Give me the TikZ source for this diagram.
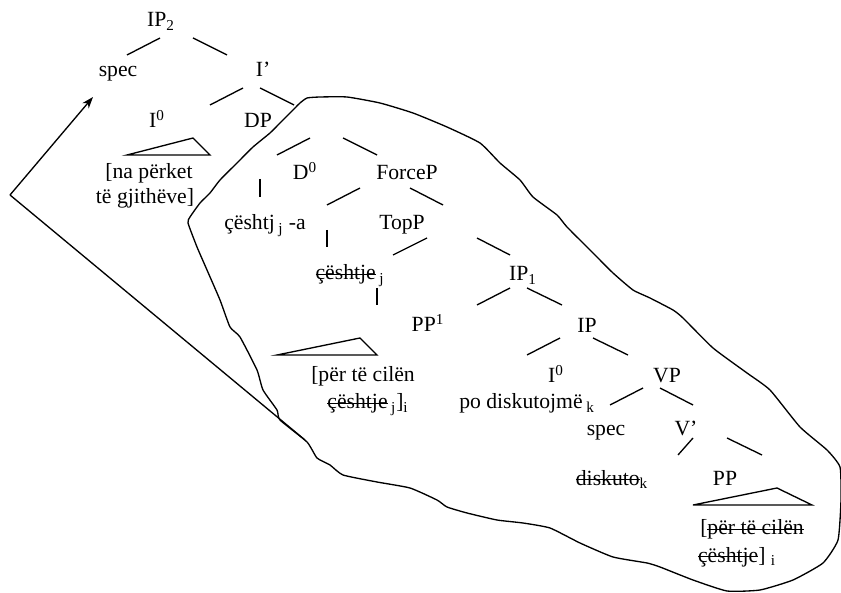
\documentclass[tikz,border=0pt]{standalone}
\usepackage{fontspec}
\setmainfont{Liberation Serif}
\usepackage{tikz}
\usetikzlibrary{arrows.meta}

% struck-through text
\newcommand{\strk}[1]{\leavevmode\setbox0\hbox{#1}\rlap{\rule[0.24em]{\wd0}{0.7pt}}\box0}

\tikzset{
  lbl/.style={anchor=base, inner sep=0pt, font=\fontsize{13}{15}\selectfont},
  branch/.style={line width=0.8pt},
  blob/.style={line width=0.8pt, line join=round}
}

\begin{document}
\begin{tikzpicture}[x=0.6pt, y=-0.6pt]
\useasboundingbox (0,0) rectangle (841,593);

% Upper tree (IP2)
\node[lbl] (ip2)   at (161,27)  {IP\textsubscript{2}};
\node[lbl] (spec)  at (118,77)  {spec};
\node[lbl] (ibar)  at (263,77)  {I’};
\node[lbl] (i0)    at (157,128) {I\textsuperscript{0}};
\node[lbl] (dp)    at (258,128) {DP};
\node[lbl] (na1)   at (149,179) {[na përket};
\node[lbl] (na2)   at (145,204) {të gjithëve]};

\draw[branch] (ip2.base) ++(-1,11) -- ++(-33,17);
\draw[branch] (ip2.base) ++(32,11) -- ++(34,17);
\draw[branch] (ibar.base) ++(-20,11) -- ++(-33,17);
\draw[branch] (ibar.base) ++(-3,11) -- ++(34,17);
\draw[branch] (i0.base) ++(-30,27) -- ++(66,-17) -- ++(17,17) -- cycle;

% DP inside the blob
\node[lbl] (d0)      at (305,180) {D\textsuperscript{0}};
\node[lbl] (forcep)  at (407,180) {ForceP};
\node[lbl] (cesht)   at (265,230) {çështj\,\textsubscript{j} -a};
\node[lbl] (topp)    at (402,230) {TopP};
\node[lbl] (ceshtje) at (350,280) {\strk{çështje}\,\textsubscript{j}};
\node[lbl] (ip1)     at (523,281) {IP\textsubscript{1}};
\node[lbl] (pp1)     at (428,332) {PP\textsuperscript{1}};
\node[lbl] (ip)      at (587,333) {IP};
\node[lbl] (per1)    at (363,382) {[për të cilën};
\node[lbl] (per2)    at (368,409) {\strk{çështje}\,\textsubscript{j}]\textsubscript{i}};

\draw[branch] (dp.base) ++(52,10) -- ++(-33,17);
\draw[branch] (dp.base) ++(85,10) -- ++(34,17);
\draw[branch] (d0.base) ++(-45,-1) -- ++(0,18);
\draw[branch] (forcep.base) ++(-47,8) -- ++(-33,17);
\draw[branch] (forcep.base) ++(3,8) -- ++(33,17);
\draw[branch] (topp.base) ++(-75,0) -- ++(0,17);
\draw[branch] (topp.base) ++(25,8) -- ++(-34,17);
\draw[branch] (topp.base) ++(75,8) -- ++(33,17);
\draw[branch] (ceshtje.base) ++(27,8) -- ++(0,17);
\draw[branch] (ip1.base) ++(-13,7) -- ++(-33,17);
\draw[branch] (ip1.base) ++(4,7) -- ++(35,17);
\draw[branch] (pp1.base) ++(-151,23) -- ++(83,-17) -- ++(17,17) -- cycle;
\draw[branch] (ip.base) ++(-27,5) -- ++(-33,17);
\draw[branch] (ip.base) ++(6,5) -- ++(35,17);

% IP and VP
\node[lbl] (i0b)     at (556,383) {I\textsuperscript{0}};
\node[lbl] (podisk)  at (527,409) {po diskutojmë\,\textsubscript{k}};
\node[lbl] (vp)      at (667,383) {VP};
\node[lbl] (spec2)   at (606,436) {spec};
\node[lbl] (vbar)    at (686,436) {V’};
\node[lbl] (diskuto) at (612,485) {\strk{diskuto}\textsubscript{k}};
\node[lbl] (pp)      at (725,485) {PP};
\node[lbl] (per3)    at (752,535) {[\strk{për të cilën}};
\node[lbl] (per4)    at (737,562) {\strk{çështje}] \textsubscript{i}};

\draw[branch] (vp.base) ++(-24,5) -- ++(-33,17);
\draw[branch] (vp.base) ++(-7,5) -- ++(33,17);
\draw[branch] (vbar.base) ++(7,2) -- ++(-15,17);
\draw[branch] (vbar.base) ++(41,2) -- ++(35,17);
\draw[branch] (pp.base) ++(-32,20) -- ++(84,-17) -- ++(35,17) -- cycle;

% Movement arrow
\coordinate (corner) at (10,195);
\coordinate (tip) at (93,97);
\coordinate (tail) at (305,440);
\draw[branch, -{Stealth[length=7pt, width=5pt]}] (corner) -- (tip);
\draw[branch] (corner) -- (tail);

% Outline round the moved DP
\draw[blob] plot[smooth cycle, tension=0.3] coordinates {
  (293,110) (300,103) (307,98) (320,97) (347,97) (380,103) (413,113)
  (447,127) (480,143) (500,163) (520,180) (533,197) (557,215) (567,227)
  (593,253) (613,273) (633,290) (650,298) (673,310) (683,318) (713,348)
  (747,373) (770,390) (800,427) (827,450) (840,467) (841,500) (838,540)
  (823,563) (793,580) (760,590) (727,591) (693,580) (660,567) (647,563)
  (613,557) (580,543) (550,528) (523,523) (497,520) (467,513) (447,507)
  (437,500) (410,488) (377,482) (343,475) (330,465) (317,458) (307,442)
  (280,420) (277,410) (263,390) (257,370) (240,337) (230,327) (220,300)
  (207,270) (197,247) (188,223) (190,217) (200,203) (210,193) (220,180)
  (237,163) (253,147) (270,133) (280,123)};
\end{tikzpicture}
\end{document}
